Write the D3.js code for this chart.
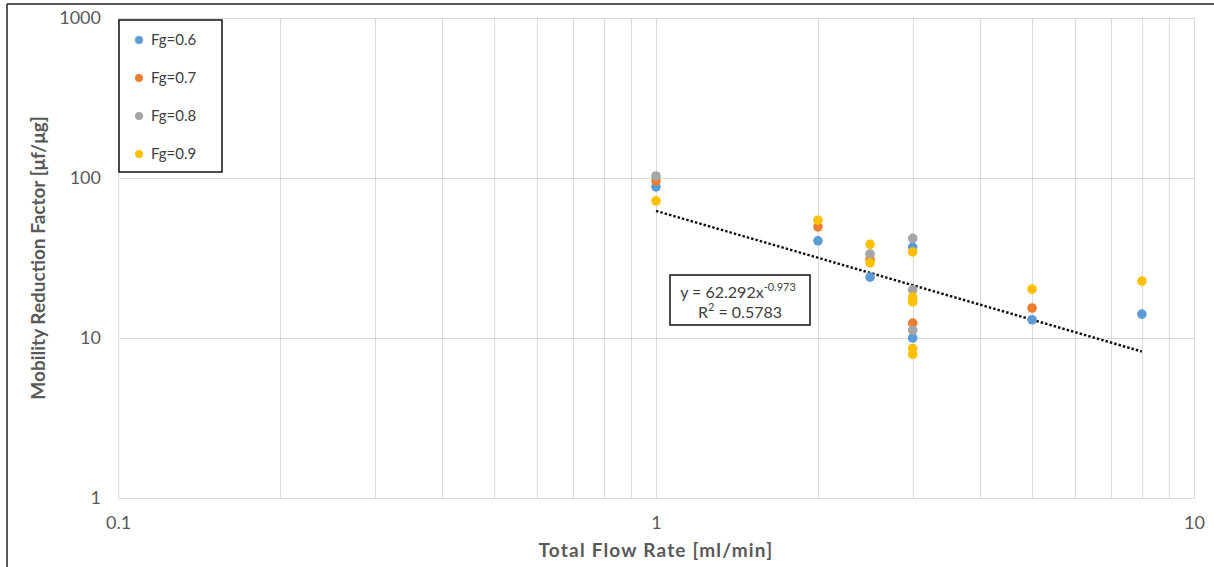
<!DOCTYPE html>
<html>
<head>
<meta charset="utf-8">
<script src="https://cdn.jsdelivr.net/npm/d3@7"></script>
<style>
  body { margin: 0; background: #fff; }
  text { font-family: Lato, "Open Sans", sans-serif; }
</style>
</head>
<body>
<svg id="chart" width="1214" height="567"></svg>
<script>
// series data
var seriesNames = ['Fg=0.6', 'Fg=0.7', 'Fg=0.8', 'Fg=0.9'];
var seriesColors = ['#5b9bd5', '#ed7d31', '#a5a5a5', '#ffc000'];

var fg06X = [1, 2, 2.5, 3, 3, 5, 8];
var fg06Y = [88, 40.5, 24, 37, 10, 13, 14.1];

var fg07X = [1, 2, 2.5, 3, 5];
var fg07Y = [96, 49.5, 31, 12.4, 15.4];

var fg08X = [1, 2.5, 3, 3, 3];
var fg08Y = [103, 33.5, 42, 20, 11.2];

var fg09X = [1, 2, 2.5, 2.5, 3, 3, 3, 3, 3, 5, 8];
var fg09Y = [72, 54.5, 38.5, 29.5, 34.5, 18, 16.8, 8.6, 7.9, 20.2, 22.7];

// power trendline y = a * x^b
var trendA = 62.292;
var trendB = -0.973;
var trendRange = [1, 8];

var xTicks = [0.1, 1, 10];
var yTicks = [1, 10, 100, 1000];

var svg = d3.select('#chart');
var margin = {top: 18, right: 20, bottom: 69, left: 118};
var width = 1214 - margin.left - margin.right;
var height = 567 - margin.top - margin.bottom;

// outer chart border (only top and left visible in the crop)
svg.append('line').attr('x1', 7).attr('x2', 1214).attr('y1', 4).attr('y2', 4)
    .attr('stroke', '#222').attr('stroke-width', 1.5);
svg.append('line').attr('x1', 7).attr('x2', 7).attr('y1', 4).attr('y2', 567)
    .attr('stroke', '#222').attr('stroke-width', 1.5);

var g = svg.append('g')
    .attr('transform', 'translate(' + margin.left + ',' + margin.top + ')');

var x = d3.scaleLog().domain([0.1, 10]).range([0, width]);
var y = d3.scaleLog().domain([1, 1000]).range([height, 0]);

// vertical gridlines at every minor step
var xGrid = [];
[0.1, 1].forEach(function(dec) {
  for (var k = 1; k <= 10; k++) xGrid.push(dec * k);
});
g.append('g').selectAll('line')
    .data(xGrid)
    .enter().append('line')
    .attr('x1', function(d) { return Math.round(x(d)) + 0.5; })
    .attr('x2', function(d) { return Math.round(x(d)) + 0.5; })
    .attr('y1', 0).attr('y2', height)
    .attr('stroke', '#d9d9d9').attr('stroke-width', 1);

g.append('g').selectAll('line')
    .data(yTicks)
    .enter().append('line')
    .attr('x1', 0).attr('x2', width)
    .attr('y1', function(d) { return Math.round(y(d)) + 0.5; })
    .attr('y2', function(d) { return Math.round(y(d)) + 0.5; })
    .attr('stroke', '#d9d9d9').attr('stroke-width', 1);

// axes (labels only)
var xAxis = g.append('g')
    .attr('transform', 'translate(0,' + height + ')')
    .call(d3.axisBottom(x).tickValues(xTicks).tickFormat(d3.format('')).tickSize(0).tickPadding(18));
xAxis.select('.domain').remove();

var yAxis = g.append('g')
    .call(d3.axisLeft(y).tickValues(yTicks).tickFormat(d3.format('')).tickSize(0).tickPadding(17));
yAxis.select('.domain').remove();

g.selectAll('.tick text')
    .attr('fill', '#595959')
    .attr('font-family', 'Lato, sans-serif')
    .attr('font-size', 18);

// trendline
var trendData = d3.range(0, 41).map(function(i) {
  var lx = Math.log10(trendRange[0]) + i / 40 * (Math.log10(trendRange[1]) - Math.log10(trendRange[0]));
  var xv = Math.pow(10, lx);
  return [xv, trendA * Math.pow(xv, trendB)];
});
g.append('path')
    .datum(trendData)
    .attr('fill', 'none')
    .attr('stroke', '#111')
    .attr('stroke-width', 2.5)
    .attr('stroke-dasharray', '2.5,2')
    .attr('d', d3.line()
        .x(function(d) { return x(d[0]); })
        .y(function(d) { return y(d[1]); }));

// scatter points
var allSeries = [
  {xs: fg06X, ys: fg06Y},
  {xs: fg07X, ys: fg07Y},
  {xs: fg08X, ys: fg08Y},
  {xs: fg09X, ys: fg09Y}
];
allSeries.forEach(function(s, si) {
  var pts = s.xs.map(function(v, i) { return {x: v, y: s.ys[i]}; });
  g.append('g').selectAll('circle')
      .data(pts)
      .enter().append('circle')
      .attr('cx', function(d) { return x(d.x); })
      .attr('cy', function(d) { return y(d.y); })
      .attr('r', 4.8)
      .attr('fill', seriesColors[si]);
});

// equation box
var eq = svg.append('g').attr('transform', 'translate(670,275)');
eq.append('rect')
    .attr('width', 140).attr('height', 50)
    .attr('fill', '#fff').attr('stroke', '#111').attr('stroke-width', 1.5);
var eqText = eq.append('text')
    .attr('x', 68).attr('y', 23)
    .attr('text-anchor', 'middle')
    .attr('fill', '#404040')
    .style('font-size', '16px');
eqText.append('tspan').text('y = 62.292x');
eqText.append('tspan').attr('dy', -7).style('font-size', '11px').text('-0.973');
eq.append('text')
    .attr('x', 70).attr('y', 43)
    .attr('text-anchor', 'middle')
    .attr('fill', '#404040')
    .style('font-size', '16px')
    .html('R<tspan dy="-7" font-size="11px">2</tspan><tspan dy="7"> = 0.5783</tspan>');

// legend
var legend = svg.append('g').attr('transform', 'translate(119,20)');
legend.append('rect')
    .attr('width', 103).attr('height', 152)
    .attr('fill', '#fff').attr('stroke', '#111').attr('stroke-width', 1.5);
var items = legend.selectAll('.item')
    .data(seriesNames)
    .enter().append('g')
    .attr('class', 'item')
    .attr('transform', function(d, i) { return 'translate(0,' + (20 + i * 38) + ')'; });
items.append('circle')
    .attr('cx', 20).attr('cy', 0).attr('r', 4)
    .attr('fill', function(d, i) { return seriesColors[i]; });
items.append('text')
    .attr('x', 32).attr('y', 5)
    .attr('fill', '#404040')
    .style('font-size', '15px')
    .text(function(d) { return d; });

// axis titles
svg.append('text')
    .attr('x', margin.left + x(1)).attr('y', 557)
    .attr('text-anchor', 'middle')
    .attr('fill', '#595959')
    .style('font-size', '19px').style('font-weight', 'bold')
    .style('letter-spacing', '1.2px')
    .text('Total Flow Rate [ml/min]');

svg.append('text')
    .attr('transform', 'translate(45,' + (margin.top + height / 2) + ') rotate(-90)')
    .attr('text-anchor', 'middle')
    .attr('fill', '#595959')
    .style('font-size', '19px').style('font-weight', 'bold')
    .text('Mobility Reduction Factor [μf/μg]');
</script>
</body>
</html>
